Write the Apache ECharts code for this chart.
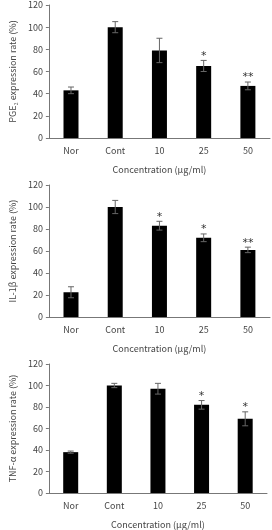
<!DOCTYPE html>
<html><head><meta charset="utf-8">
<script src="https://cdn.jsdelivr.net/npm/echarts@6/dist/echarts.min.js"></script>
<style>html,body{margin:0;padding:0;background:#fff}#c{width:272px;height:530px}</style>
</head><body><div id="c"></div>
<script>
const categories = ['Nor', 'Cont', '10', '25', '50'];
const yTicks = [0, 20, 40, 60, 80, 100, 120];
const xTitle = 'Concentration (\u03bcg/ml)';

const pgeValues = [43, 100, 79, 65, 47];
const pgeErrors = [3, 5, 11, 5, 3.5];
const pgeStars = ['', '', '', '*', '**'];
const pgeTitle = 'PGE\u2082 expression rate (%)';

const ilValues = [22.5, 100, 83, 72, 61];
const ilErrors = [5, 6, 4, 3.5, 2.5];
const ilStars = ['', '', '*', '*', '**'];
const ilTitle = 'IL-1\u03b2 expression rate (%)';

const tnfValues = [38, 100, 97, 82, 69];
const tnfErrors = [1, 2, 5, 4, 6.5];
const tnfStars = ['', '', '', '*', '*'];
const tnfTitle = 'TNF-\u03b1 expression rate (%)';

const panels = [
  {vals: pgeValues, errs: pgeErrors, stars: pgeStars, title: pgeTitle, grid: {left: 40, top: 5, width: 230, height: 133}},
  {vals: ilValues, errs: ilErrors, stars: ilStars, title: ilTitle, grid: {left: 33, top: 185, width: 237, height: 132}},
  {vals: tnfValues, errs: tnfErrors, stars: tnfStars, title: tnfTitle, grid: {left: 36, top: 364, width: 231, height: 131}}
];

const FONT = 'Noto Sans CJK KR';
const txt = '#444';
const axisCol = '#777';

const option = {
  animation: false,
  backgroundColor: '#fff',
  grid: panels.map(p => Object.assign({containLabel: false}, p.grid)),
  xAxis: panels.map((p, k) => ({
    type: 'category', gridIndex: k, data: categories,
    axisLine: {lineStyle: {color: axisCol, width: 1}},
    axisTick: {inside: true, length: 3, lineStyle: {color: axisCol}},
    axisLabel: {color: txt, fontSize: 9, fontFamily: FONT, margin: 8},
    name: xTitle, nameLocation: 'middle', nameGap: 27,
    nameTextStyle: {color: txt, fontSize: 9, fontFamily: FONT}
  })),
  yAxis: panels.map((p, k) => ({
    type: 'value', gridIndex: k, min: yTicks[0], max: yTicks[yTicks.length - 1], interval: yTicks[1] - yTicks[0],
    splitLine: {show: false},
    axisLine: {show: true, lineStyle: {color: axisCol, width: 1}},
    axisTick: {show: true, length: 3, lineStyle: {color: axisCol}},
    axisLabel: {color: txt, fontSize: 9, fontFamily: FONT, margin: 6},
    name: p.title, nameLocation: 'middle', nameGap: k === 0 ? 26 : 22, nameRotate: 90,
    nameTextStyle: {color: txt, fontSize: 9, fontFamily: FONT}
  })),
  series: []
};

panels.forEach((p, k) => {
  option.series.push({
    type: 'bar', xAxisIndex: k, yAxisIndex: k, data: p.vals, barWidth: 15,
    itemStyle: {color: '#000'}
  });
  option.series.push({
    type: 'custom', xAxisIndex: k, yAxisIndex: k, z: 10,
    data: p.vals.map((v, i) => [i, v, p.errs[i]]),
    renderItem: (params, api) => {
      const i = api.value(0), v = api.value(1), e = api.value(2);
      const top = api.coord([i, v + e]);
      const bot = api.coord([i, v - e]);
      const hw = 3;
      const st = {stroke: '#666', lineWidth: 1};
      const children = [
        {type: 'line', shape: {x1: top[0], y1: top[1], x2: bot[0], y2: bot[1]}, style: st},
        {type: 'line', shape: {x1: top[0] - hw, y1: top[1], x2: top[0] + hw, y2: top[1]}, style: st},
        {type: 'line', shape: {x1: bot[0] - hw, y1: bot[1], x2: bot[0] + hw, y2: bot[1]}, style: st}
      ];
      const s = p.stars[params.dataIndex];
      if (s) {
        children.push({type: 'text', style: {text: s, x: top[0], y: top[1] + 1, align: 'center', verticalAlign: 'bottom', fontSize: 11, fontFamily: 'DejaVu Sans', fill: '#333'}});
      }
      return {type: 'group', children};
    }
  });
});

echarts.init(document.getElementById('c')).setOption(option);
</script></body></html>
